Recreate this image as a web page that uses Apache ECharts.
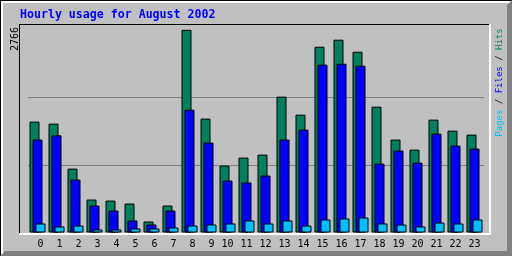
<!DOCTYPE html>
<html><head><meta charset="utf-8">
<script src="https://cdn.jsdelivr.net/npm/echarts@6/dist/echarts.min.js"></script>
<style>html,body{margin:0;padding:0;background:#c0c0c0}#c{width:512px;height:256px}</style>
</head><body><div id="c"></div>
<script>
const titleText = 'Hourly usage for August 2002';
const hours = ['0','1','2','3','4','5','6','7','8','9','10','11','12','13','14','15','16','17','18','19','20','21','22','23'];
const hits  = [1513,1486,872,450,436,395,150,368,2766,1554,913,1022,1063,1854,1608,2535,2631,2467,1717,1268,1131,1540,1390,1336];
const files = [1268,1326,722,368,300,164,109,300,1676,1227,709,682,777,1268,1404,2290,2303,2276,940,1118,954,1349,1186,1145];
const pages = [123,82,95,41,41,55,55,68,95,109,123,164,123,164,95,177,191,204,123,109,82,136,123,177];
const yMax = 2766;
const yTickLabels = ['2766'];
const legendParts = ['Pages', 'Files', 'Hits'];

const C_HITS = '#00805c', C_FILES = '#0000ff', C_PAGES = '#00c0ff';
const chart = echarts.init(document.getElementById('c'), null, {renderer: 'canvas'});
const mono = 'DejaVu Sans Mono';

function barSeries(name, data, color) {
  return {
    name, type: 'bar', data, barWidth: 10, barGap: '-70%',
    itemStyle: {color, borderColor: '#000', borderWidth: 1},
    emphasis: {disabled: true}, animation: false
  };
}

chart.setOption({
  backgroundColor: '#c0c0c0',
  animation: false,
  grid: {left: 28, width: 456, top: 29.8, bottom: 23.5, containLabel: false},
  xAxis: {
    type: 'category', data: hours,
    axisLine: {show: false}, axisTick: {show: false},
    axisLabel: {
      color: '#000', fontFamily: mono, fontSize: 10, margin: 7, interval: 0,
      formatter: v => v.length === 1 ? ' ' + v : v
    }
  },
  yAxis: {
    type: 'value', min: 0, max: yMax, interval: yMax / 3,
    axisLine: {show: false}, axisTick: {show: false}, axisLabel: {show: false},
    splitLine: {show: true, showMinLine: false, showMaxLine: false, lineStyle: {color: '#808080', width: 1}}
  },
  series: [
    barSeries('Hits', hits, C_HITS),
    barSeries('Files', files, C_FILES),
    barSeries('Pages', pages, C_PAGES)
  ],
  graphic: [
    // outer bevel
    {type: 'rect', shape: {x: 0, y: 0, width: 512, height: 1}, style: {fill: '#000'}, z: 0, silent: true},
    {type: 'rect', shape: {x: 0, y: 0, width: 1, height: 256}, style: {fill: '#000'}, z: 0, silent: true},
    {type: 'rect', shape: {x: 1, y: 1, width: 510, height: 2}, style: {fill: '#fff'}, z: 0, silent: true},
    {type: 'rect', shape: {x: 1, y: 1, width: 2, height: 254}, style: {fill: '#fff'}, z: 0, silent: true},
    {type: 'polygon', shape: {points: [[512,0],[512,256],[0,256],[5,251],[507,251],[507,5]]}, style: {fill: '#808080'}, z: 0, silent: true},
    // plot frame
    {type: 'rect', shape: {x: 19, y: 24, width: 471, height: 1}, style: {fill: '#000'}, z: 10, silent: true},
    {type: 'rect', shape: {x: 19, y: 24, width: 1, height: 210}, style: {fill: '#000'}, z: 10, silent: true},
    {type: 'rect', shape: {x: 19, y: 233, width: 472, height: 2}, style: {fill: '#fff'}, z: 10, silent: true},
    {type: 'rect', shape: {x: 489, y: 24, width: 2, height: 211}, style: {fill: '#fff'}, z: 10, silent: true},
    // title
    {type: 'text', x: 20, y: 15, silent: true, z: 10,
     style: {text: titleText, fill: '#0000ff', font: 'bold 11.6px "DejaVu Sans Mono"', textVerticalAlign: 'middle', textAlign: 'left'}},
    // y max label
    {type: 'text', x: 15, y: 39, rotation: Math.PI / 2, silent: true, z: 10,
     style: {text: yTickLabels[0], fill: '#000', font: '10px "DejaVu Sans Mono"', textAlign: 'center', textVerticalAlign: 'middle'}},
    // right legend
    {type: 'text', x: 500, y: 82.5, rotation: Math.PI / 2, silent: true, z: 10,
     style: {
       text: '{p|' + legendParts[0] + '}{k| / }{f|' + legendParts[1] + '}{k| / }{h|' + legendParts[2] + '}',
       font: '9px "DejaVu Sans Mono"', textAlign: 'center', textVerticalAlign: 'middle',
       rich: {
         p: {fill: C_PAGES, font: '9px "DejaVu Sans Mono"'},
         f: {fill: C_FILES, font: '9px "DejaVu Sans Mono"'},
         h: {fill: C_HITS, font: '9px "DejaVu Sans Mono"'},
         k: {fill: '#000', font: '9px "DejaVu Sans Mono"'}
       }
     }}
  ]
});
</script></body></html>
